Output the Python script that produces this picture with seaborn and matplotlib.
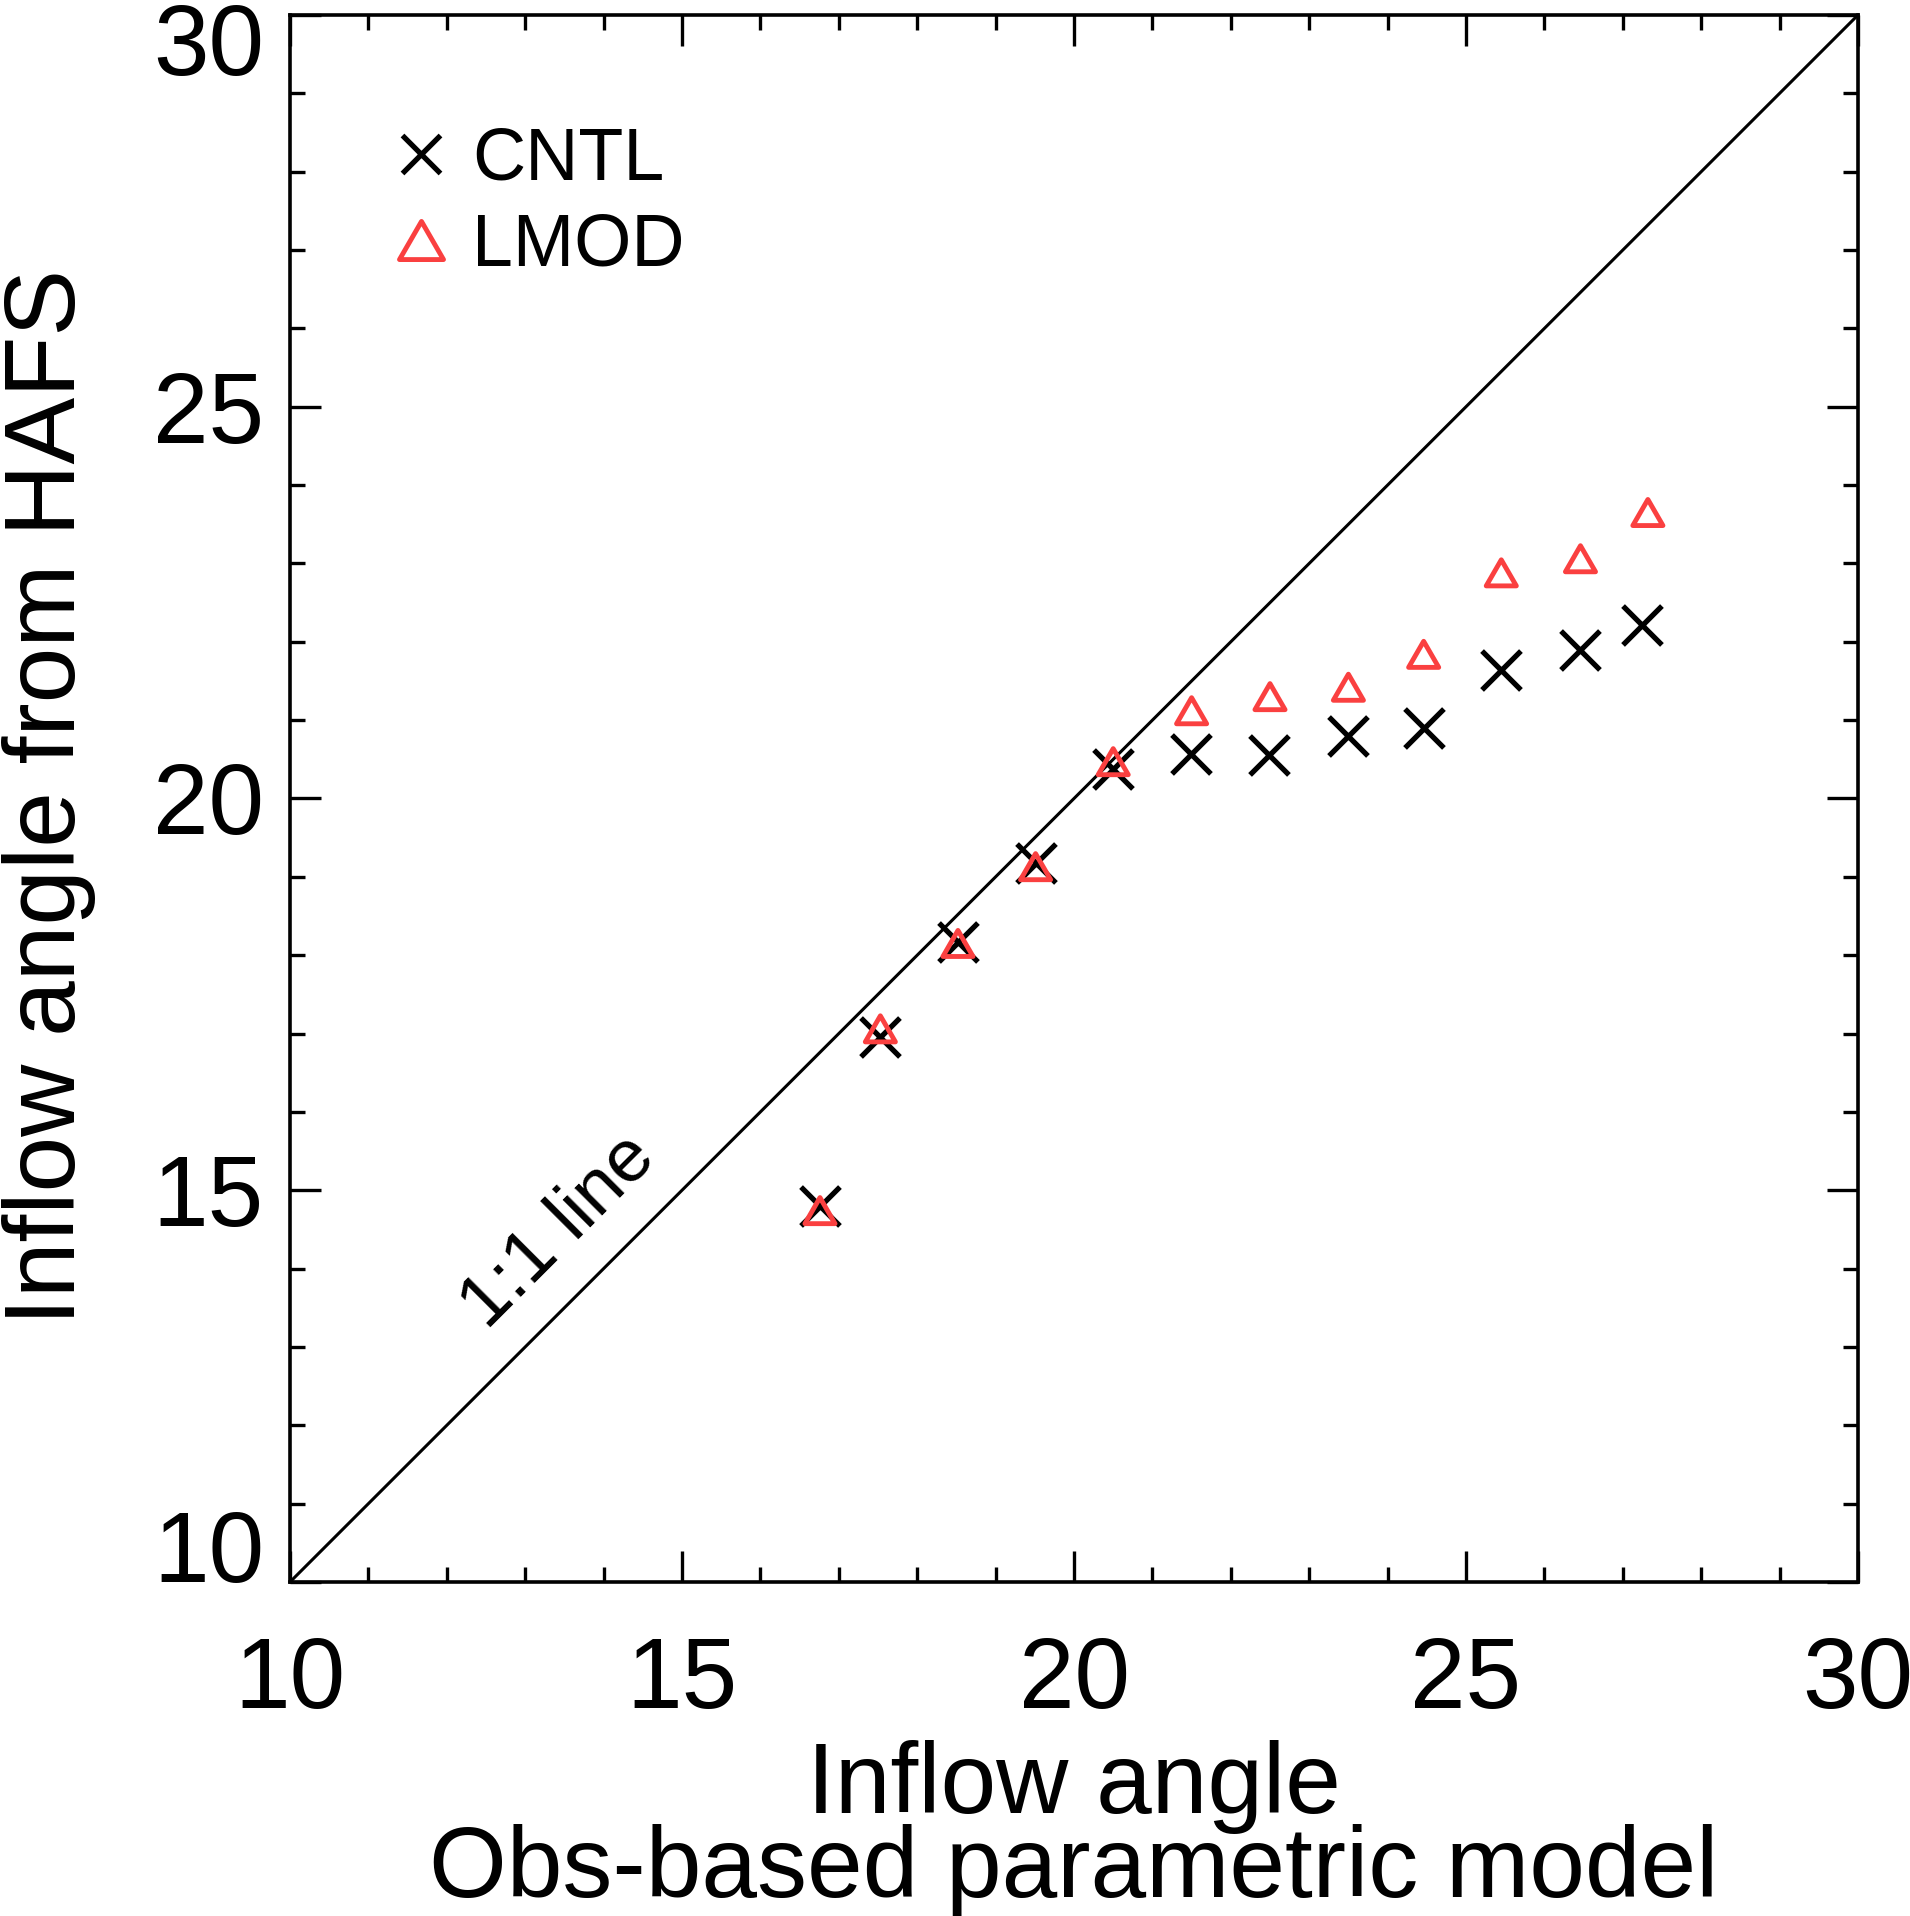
import numpy as np
import pandas as pd
import matplotlib
matplotlib.use("Agg")
import matplotlib.pyplot as plt
from matplotlib.path import Path
from matplotlib.lines import Line2D
from matplotlib.transforms import ScaledTranslation
from matplotlib.ticker import MultipleLocator
import seaborn as sns

# ---------------- data ----------------
obs_cntl = [16.76, 17.53, 18.52, 19.51, 20.50, 21.49, 22.49, 23.49, 24.46, 25.45, 26.45, 27.24]
hafs_cntl = [14.80, 16.96, 18.17, 19.18, 20.38, 20.57, 20.56, 20.80, 20.90, 21.64, 21.90, 22.22]
obs_lmod = [16.76, 17.53, 18.52, 19.51, 20.50, 21.50, 22.50, 23.50, 24.46, 25.45, 26.46, 27.32]
hafs_lmod = [14.74, 17.06, 18.15, 19.13, 20.47, 21.12, 21.30, 21.42, 21.84, 22.88, 23.06, 23.65]
series_names = ["CNTL", "LMOD"]
one_to_one = [10, 30]
tick_values = [10, 15, 20, 25, 30]
tick_labels = ["10", "15", "20", "25", "30"]
xlabel_text = "Inflow angle\nObs-based parametric model"
ylabel_text = "Inflow angle from HAFS"
line_label = "1:1 line"

RED = "#FA4040"
DPI = 100

sns.set_style("white")
plt.rcParams["font.family"] = ["Liberation Sans", "DejaVu Sans"]
plt.rcParams.update({
    "text.color": "black",
    "axes.labelcolor": "black",
    "xtick.color": "black",
    "ytick.color": "black",
    "axes.edgecolor": "black",
})

fig = plt.figure(figsize=(19.10, 19.16), dpi=DPI)
ax = fig.add_axes([290 / 1910, 1 - 1582 / 1916, (1858 - 290) / 1910, (1582 - 15) / 1916])

# equilateral triangle marker
tri = Path([(0, 0.866), (-1, -0.866), (1, -0.866), (0, 0.866)],
           [Path.MOVETO, Path.LINETO, Path.LINETO, Path.CLOSEPOLY])

# 1:1 line
ax.plot(one_to_one, one_to_one, color="k", lw=2.2, zorder=1)

df_c = pd.DataFrame({"obs": obs_cntl, "hafs": hafs_cntl})
df_l = pd.DataFrame({"obs": obs_lmod, "hafs": hafs_lmod})

sns.scatterplot(data=df_c, x="obs", y="hafs", marker="x", s=784, color="k",
                linewidth=3.8, ax=ax, legend=False, zorder=3)
sns.scatterplot(data=df_l, x="obs", y="hafs", marker=tri, s=470, color=RED,
                facecolor="none", edgecolor=RED, linewidth=3.5, ax=ax,
                legend=False, zorder=4)

ax.set_xlim(10, 30)
ax.set_ylim(10, 30)
ax.set_xticks(tick_values)
ax.set_xticklabels(tick_labels)
ax.set_yticks(tick_values)
ax.set_yticklabels(tick_labels)
ax.xaxis.set_minor_locator(MultipleLocator(1))
ax.yaxis.set_minor_locator(MultipleLocator(1))

ax.tick_params(which="both", direction="in", top=True, right=True,
               bottom=True, left=True,
               width=2.4, color="k", labelcolor="k", labelsize=72)
ax.tick_params(which="major", length=22.3)
ax.tick_params(which="minor", length=10.8)
ax.tick_params(axis="x", pad=38)
ax.tick_params(axis="y", pad=18.7)

for sp in ax.spines.values():
    sp.set_linewidth(2.6)
    sp.set_color("k")

# IDL-like placement of y tick labels (baseline offsets in px below tick)
y_offsets = {"10": 0, "15": 36, "20": 36, "25": 36, "30": 60}
for lab in ax.get_yticklabels():
    lab.set_verticalalignment("baseline")
    off = y_offsets.get(lab.get_text(), 36)
    lab.set_transform(lab.get_transform() +
                      ScaledTranslation(0, -off / DPI, fig.dpi_scale_trans))

ax.set_xlabel(xlabel_text, fontsize=72, linespacing=0.86, color="k")
ax.xaxis.set_label_coords(0.5, (1582 - 1740) / 1567)
ax.xaxis.label.set_verticalalignment("top")
ax.set_ylabel(ylabel_text, fontsize=72, color="k")
ax.yaxis.set_label_coords((96 - 290) / 1568, (1582 - 797) / 1567)

ax.text(13.42, 14.47, line_label, fontsize=54, rotation=45, color="k",
        rotation_mode="anchor", ha="center", va="center")

handles = [
    Line2D([], [], marker="x", ls="", ms=28, mew=3.8, color="k"),
    Line2D([], [], marker=tri, ls="", ms=31.7, mew=3.5, mfc="none", mec=RED),
]
leg = ax.legend(handles, series_names, loc="upper left",
                bbox_to_anchor=((384 - 290) / 1568, (1582 - 126) / 1567),
                frameon=False, fontsize=53, handlelength=1.0, handletextpad=0.2,
                labelspacing=0.23, borderpad=0, borderaxespad=0)
for t in leg.get_texts():
    t.set_color("k")

fig.savefig("out.png", dpi=DPI)
